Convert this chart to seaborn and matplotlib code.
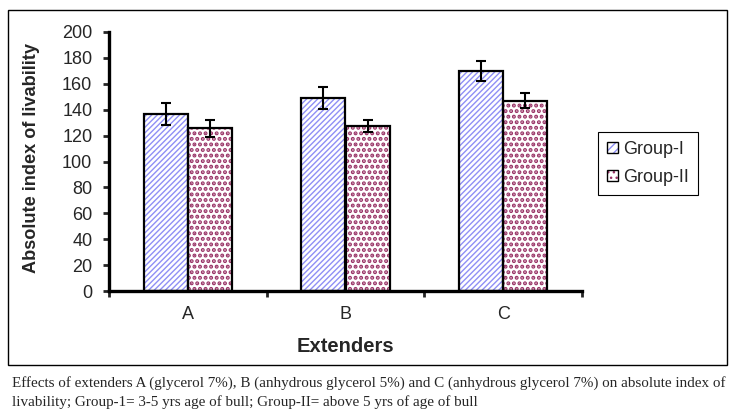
import matplotlib
matplotlib.use('Agg')
import matplotlib.pyplot as plt
import seaborn as sns
import pandas as pd
from matplotlib.patches import Rectangle, Patch
from matplotlib.legend_handler import HandlerTuple

# ---- data ----
extenders = ['A', 'B', 'C']
groups = ['Group-I', 'Group-II']
group1_vals = [136.5, 149.0, 170.0]
group2_vals = [125.5, 127.5, 147.0]
group1_err = [8.4, 8.5, 7.8]
group2_err = [6.3, 4.4, 5.8]
y_ticks = list(range(0, 201, 20))
caption_lines = [
    "Effects of extenders A (glycerol 7%), B (anhydrous glycerol 5%) and C (anhydrous glycerol 7%) on absolute index of",
    "livability; Group-1= 3-5 yrs age of bull; Group-II= above 5 yrs of age of bull",
]

BLUE = '#8f8ff5'
MAROON = '#993366'

sns.set_theme(style='white')
plt.rcParams['font.family'] = ['Liberation Sans', 'DejaVu Sans']
plt.rcParams['hatch.linewidth'] = 1.0

fig = plt.figure(figsize=(7.32, 4.18), dpi=100)
ax = fig.add_axes([109 / 732, 1 - 291 / 418, (582 - 109) / 732, (291 - 32) / 418])

df = pd.DataFrame({
    'Extender': extenders * 2,
    'Group': [groups[0]] * len(extenders) + [groups[1]] * len(extenders),
    'value': group1_vals + group2_vals,
})
sns.barplot(data=df, x='Extender', y='value', hue='Group', order=extenders,
            hue_order=groups, width=0.56, palette=['white', 'white'],
            errorbar=None, legend=False, ax=ax)


def set_hlw(p, w):
    if hasattr(p, 'set_hatch_linewidth'):
        p.set_hatch_linewidth(w)
    else:
        p._hatch_linewidth = w


hatches = ['//////', '...']
hlws = [1.0, 2.0]
hcolors = [BLUE, MAROON]
errs_all = [group1_err, group2_err]
for container, hatch, hc, hw, errs in zip(ax.containers, hatches, hcolors, hlws, errs_all):
    for bar, e in zip(container, errs):
        bar.set_facecolor('white')
        bar.set_edgecolor(hc)
        bar.set_hatch(hatch)
        set_hlw(bar, hw)
        bar.set_linewidth(0)
        ax.add_patch(Rectangle(bar.get_xy(), bar.get_width(), bar.get_height(),
                               fill=False, edgecolor='black', lw=1.6,
                               zorder=bar.get_zorder() + 0.1))
        ax.errorbar(bar.get_x() + bar.get_width() / 2, bar.get_height(), yerr=e,
                    color='black', capsize=3.5, elinewidth=1.5, capthick=1.5,
                    zorder=5)

ax.set_xlim(-0.5, len(extenders) - 0.5)
ax.set_ylim(0, 200)
ax.set_yticks(y_ticks)
ax.set_xticks(range(len(extenders)))
ax.set_xticklabels(extenders)
ax.set_xticks([i - 0.5 for i in range(len(extenders) + 1)], minor=True)
ax.tick_params(axis='x', which='major', length=0, pad=11, labelsize=13, bottom=False)
ax.tick_params(axis='x', which='minor', length=4, width=2, direction='out', bottom=True)
ax.tick_params(axis='y', length=4, width=2, direction='out', left=True, pad=8, labelsize=13)

for s in ['top', 'right']:
    ax.spines[s].set_visible(False)
for s in ['left', 'bottom']:
    ax.spines[s].set_linewidth(2.4)
    ax.spines[s].set_color('black')

ax.set_xlabel('Extenders', fontsize=14.5, fontweight='bold', labelpad=10)
ax.set_ylabel('Absolute index of livability', fontsize=13.1, fontweight='bold')
ax.yaxis.set_label_coords(-0.146, 0.512)

handles = []
for h, hc, hw in zip(['////', '...'], hcolors, [1.0, 1.5]):
    p = Patch(facecolor='white', edgecolor=hc, hatch=h, lw=0)
    set_hlw(p, hw)
    o = Patch(facecolor='none', edgecolor='black', lw=1.0)
    handles.append((p, o))
leg = ax.legend(handles, groups, loc='upper left', bbox_to_anchor=(598 / 732, 1 - 132 / 418),
                bbox_transform=fig.transFigure, frameon=True, fancybox=False,
                edgecolor='black', framealpha=1, handlelength=0.6, handleheight=0.6,
                fontsize=13, borderpad=0.5, labelspacing=0.6, handletextpad=0.3,
                borderaxespad=0, handler_map={tuple: HandlerTuple(ndivide=1, pad=0)})
leg.get_frame().set_linewidth(0.8)

fig.add_artist(Rectangle((8 / 732, 1 - 365 / 418), (727 - 8) / 732, (365 - 10) / 418,
                         transform=fig.transFigure, fill=False, edgecolor='black', lw=1))

for i, line in enumerate(caption_lines):
    fig.text(12 / 732, 1 - (383 + 19 * i) / 418, line, family='Liberation Serif',
             fontsize=10.9, va='center', ha='left')

fig.savefig('out.png', dpi=100)
